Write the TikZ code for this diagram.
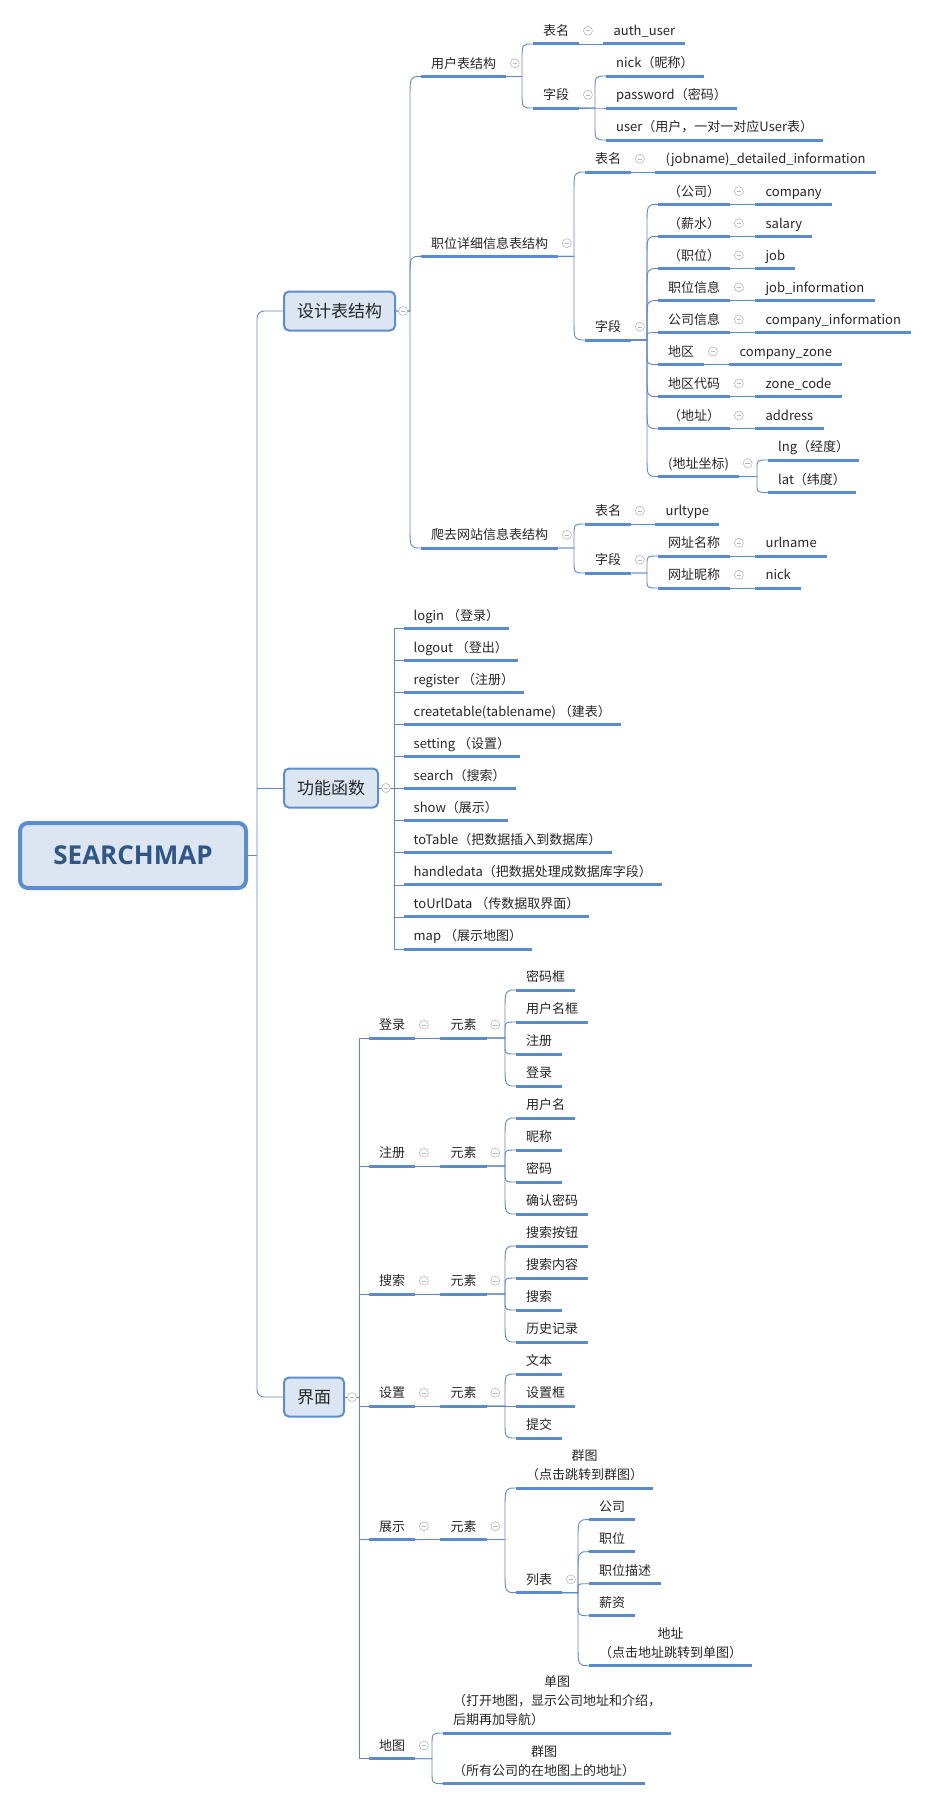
\documentclass[tikz,border=0pt]{standalone}
\usepackage{fontspec}
\setmainfont{Noto Sans CJK SC}
\newfontfamily\rootfont{Open Sans}
\usetikzlibrary{positioning,calc}
\definecolor{ulblue}{HTML}{5A8BCD}
\definecolor{lnblue}{HTML}{6088C8}
\definecolor{boxblue}{HTML}{5B8DD0}
\definecolor{boxfill}{HTML}{DCE6F2}
\definecolor{roottext}{HTML}{2F5687}
\definecolor{foldgray}{HTML}{B8B8B8}
\definecolor{inktext}{HTML}{262626}

\begin{document}
\begin{tikzpicture}[x=1pt,y=-1pt,
	base/.style={anchor=south west,inner xsep=10pt,inner ysep=5pt,text depth=3pt,
		text=inktext,font=\fontsize{13}{19}\selectfont,
		append after command={(\tikzlastnode.south west) edge[uline] (\tikzlastnode.south east)}},
	leaf/.style={base,text height=10pt},
	para/.style={base,align=center},
	uline/.style={draw=ulblue,line width=3pt},
	link/.style={draw=lnblue,line width=0.9pt},
	twig/.style={to path={let \p1=(\tikztostart),\p2=(\tikztotarget) in
		-- (\x2-11pt,\y1) -- (\x2-11pt,{\y2+max(-22pt,min(22pt,0.5*(\y1-\y2)))})
		.. controls (\x2-11pt,\y2) .. (\tikztotarget)}},
	stem/.style={to path={-| ([xshift=-9.5pt]\tikztotarget) -- (\tikztotarget)}},
	fold/.style={circle,draw=foldgray,fill=white,line width=0.6pt,minimum size=9pt,inner sep=0pt,
		path picture={\draw[foldgray,line width=0.6pt]
			([xshift=-2.3pt]path picture bounding box.center) -- ([xshift=2.3pt]path picture bounding box.center);}},
	topic/.style={draw=boxblue,line width=2pt,fill=boxfill,rounded corners=5pt,anchor=west,
		minimum height=39pt,inner xsep=13pt,text=inktext,font=\fontsize{17}{20}\selectfont},
	rootbox/.style={draw=boxblue,line width=4pt,fill=boxfill,rounded corners=8pt,
		minimum width=226pt,minimum height=65pt,text=roottext,
		font=\rootfont\bfseries\fontsize{26}{30}\selectfont}]
	\useasboundingbox (0,0) rectangle (931,1801);

	% root and main topics
	\node[rootbox] (root) at (133,855.5) {SEARCHMAP};
	\node[topic] (t1) at (283,311) {设计表结构};
	\node[topic] (t2) at (283,788) {功能函数};
	\node[topic] (t3) at (283,1397) {界面};
	\coordinate (spine) at (257,855.5);
	\draw[link,rounded corners=7pt] (t1.west) -| (spine) |- (t3.west);
	\draw[link] (root.east) -- (spine);
	\draw[link] (t2.west) -- (t2.west -| spine);

	% 设计表结构
	\node[leaf] (u) at (421,76.5) {用户表结构};
	\node[leaf] (j) at (421,256.4) {职位详细信息表结构};
	\node[leaf] (w) at (421,548) {爬去网站信息表结构};
	\foreach \c in {u,j,w} \draw[link] (t1.east) to[twig] (\c.south west);

	\node[leaf] (uT) at (533,44) {表名};
	\node[leaf] (uF) at (533,108) {字段};
	\foreach \c in {uT,uF} \draw[link] (u.south east) to[twig] (\c.south west);
	\node[leaf,right=24pt of uT.south east,anchor=south west] (uTv) {auth\_user};
	\draw[link] (uT.south east) -- (uTv.south west);
	\foreach \nm [count=\i] in {nick（昵称）,password（密码）,user（用户，一对一对应User表）}{
		\node[leaf] (uF\i) at (606,{44+32*\i}) {\nm};
		\draw[link] (uF.south east) to[twig] (uF\i.south west);
	}

	\node[leaf] (jT) at (585,172) {表名};
	\node[leaf] (jF) at (585,340) {字段};
	\foreach \c in {jT,jF} \draw[link] (j.south east) to[twig] (\c.south west);
	\node[leaf,right=24pt of jT.south east,anchor=south west] (jTv) {(jobname)\_detailed\_information};
	\draw[link] (jT.south east) -- (jTv.south west);
	\foreach \fld/\val [count=\i from 0] in {（公司）/company,（薪水）/salary,（职位）/job,
			职位信息/job\_information,公司信息/company\_information,地区/company\_zone,
			地区代码/zone\_code,（地址）/address}{
		\node[leaf] (jF\i) at (658,{204.4+32.05*\i}) {\fld};
		\node[leaf,right=25pt of jF\i.south east,anchor=south west] (jV\i) {\val};
		\draw[link] (jF.south east) to[twig] (jF\i.south west);
		\draw[link] (jF\i.south east) -- (jV\i.south west);
	}
	\node[leaf] (jA) at (658,476.5) {(地址坐标)};
	\draw[link] (jF.south east) to[twig] (jA.south west);
	\node[leaf] (jA1) at (768,460) {lng（经度）};
	\node[leaf] (jA2) at (768,492.5) {lat（纬度）};
	\foreach \c in {jA1,jA2} \draw[link] (jA.south east) to[twig] (\c.south west);

	\node[leaf] (wT) at (585,524) {表名};
	\node[leaf] (wF) at (585,573) {字段};
	\foreach \c in {wT,wF} \draw[link] (w.south east) to[twig] (\c.south west);
	\node[leaf,right=24pt of wT.south east,anchor=south west] (wTv) {urltype};
	\draw[link] (wT.south east) -- (wTv.south west);
	\foreach \fld/\val [count=\i] in {网址名称/urlname,网址昵称/nick}{
		\node[leaf] (wF\i) at (658,{524+32*\i}) {\fld};
		\node[leaf,right=25pt of wF\i.south east,anchor=south west] (wV\i) {\val};
		\draw[link] (wF.south east) to[twig] (wF\i.south west);
		\draw[link] (wF\i.south east) -- (wV\i.south west);
	}

	% 功能函数
	\foreach \nm [count=\i from 0] in {login （登录）,logout （登出）,register （注册）,
			createtable(tablename) （建表）,setting （设置）,search（搜索）,show（展示）,
			toTable（把数据插入到数据库）,handledata（把数据处理成数据库字段）,
			toUrlData （传数据取界面）,map （展示地图）}{
		\node[leaf] (f\i) at (403.5,{628.7+32.03*\i}) {\nm};
		\draw[link] (t2.east) to[stem] (f\i.south west);
	}

	% 界面
	\foreach \id/\nm/\yy/\cnt/\items in {a/登录/1038/4/{密码框,用户名框,注册,登录},
			b/注册/1166/4/{用户名,昵称,密码,确认密码},
			c/搜索/1294/4/{搜索按钮,搜索内容,搜索,历史记录},
			d/设置/1406/3/{文本,设置框,提交}}{
		\node[leaf] (ui\id) at (369,\yy) {\nm};
		\draw[link] (t3.east) to[stem] (ui\id.south west);
		\node[leaf,right=25pt of ui\id.south east,anchor=south west] (el\id) {元素};
		\draw[link] (ui\id.south east) -- (el\id.south west);
		\foreach \s [count=\i] in \items{
			\node[leaf] (el\id\i) at (516,{\yy+32*(\i-(\cnt+1)/2)}) {\s};
			\draw[link] (el\id.south east) to[twig] (el\id\i.south west);
		}
	}

	\node[leaf] (uiE) at (369,1539.5) {展示};
	\draw[link] (t3.east) to[stem] (uiE.south west);
	\node[leaf,right=25pt of uiE.south east,anchor=south west] (elE) {元素};
	\draw[link] (uiE.south east) -- (elE.south west);
	\node[para] (qt) at (516,1488) {群图\\（点击跳转到群图）};
	\node[leaf] (lb) at (516,1592.6) {列表};
	\foreach \c in {qt,lb} \draw[link] (elE.south east) to[twig] (\c.south west);
	\foreach \nm [count=\i] in {公司,职位,职位描述,薪资}{
		\node[leaf] (lb\i) at (589,{1487.6+32.03*\i}) {\nm};
		\draw[link] (lb.south east) to[twig] (lb\i.south west);
	}
	\node[para] (lbA) at (589,1665.7) {地址\\（点击地址跳转到单图）};
	\draw[link] (lb.south east) to[twig] (lbA.south west);

	\node[leaf] (uiM) at (369,1758.7) {地图};
	\draw[link] (t3.east) to[stem] (uiM.south west);
	\node[base] (dm) at (443,1733) {\begin{tabular}[b]{@{}l@{}}\multicolumn{1}{@{}c@{}}{单图}\\
		（打开地图，显示公司地址和介绍，\\后期再加导航）\end{tabular}};
	\node[para] (qm) at (443,1783.6) {群图\\（所有公司的在地图上的地址）};
	\foreach \c in {dm,qm} \draw[link] (uiM.south east) to[twig] (\c.south west);

	% fold marks
	\foreach \nd in {t1,t2,t3} \node[fold] at ([xshift=7pt]\nd.east) {};
	\foreach \nd in {u,uT,uF,j,jT,jF,jF0,jF1,jF2,jF3,jF4,jF5,jF6,jF7,jA,w,wT,wF,wF1,wF2,
			uia,ela,uib,elb,uic,elc,uid,eld,uiE,elE,lb,uiM}
		\node[fold] at ([xshift=8.5pt,yshift=1.5pt]\nd.east) {};
\end{tikzpicture}
\end{document}
